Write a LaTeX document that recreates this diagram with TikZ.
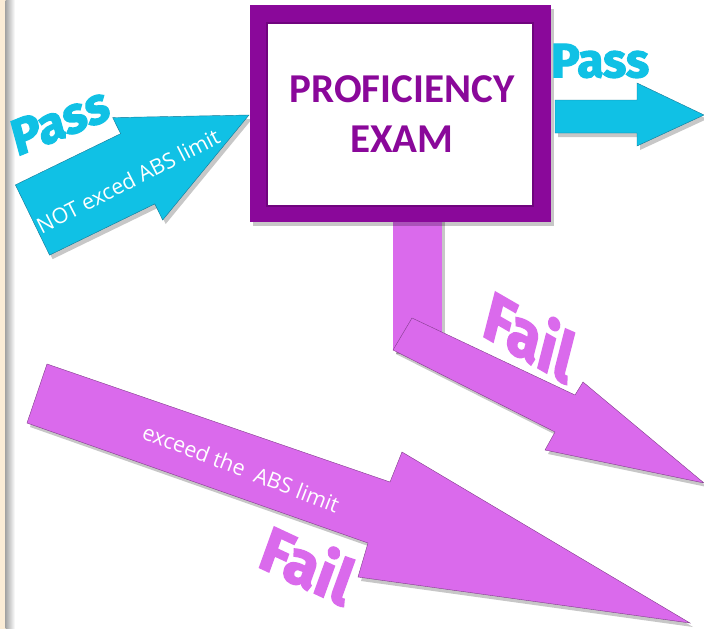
\documentclass[tikz,border=0pt]{standalone}
\usepackage{fontspec}
\setmainfont{Carlito}
\newfontfamily\heavyfont{Fira Sans}[BoldFeatures={FakeBold=2.5}]
\newfontfamily\labelfont{Open Sans}
\usetikzlibrary{shadows}
\definecolor{examPurple}{RGB}{138,8,154}
\definecolor{examPurpleDark}{RGB}{112,4,126}
\definecolor{passCyan}{RGB}{16,193,229}
\definecolor{passEdge}{RGB}{20,120,150}
\definecolor{failPink}{RGB}{218,106,236}
\definecolor{failEdge}{RGB}{130,60,140}
\definecolor{leftBeige}{RGB}{251,236,214}
\begin{document}
\begin{tikzpicture}[x=1pt,y=-1pt,
  shadowed/.style={drop shadow={shadow xshift=3pt,shadow yshift=-4pt,opacity=.22,fill=black}},
  passarrow/.style={fill=passCyan,draw=passEdge,line width=.4pt,shadowed},
  failarrow/.style={fill=failPink,draw=failEdge,line width=.4pt,shadowed},
  examouter/.style={fill=examPurple,minimum width=301pt,minimum height=217pt,inner sep=0pt,shadowed},
  examinner/.style={fill=white,draw=examPurpleDark,line width=2pt,minimum width=266pt,minimum height=183pt,inner sep=0pt,align=center,font=\bfseries\fontsize{41}{50}\selectfont,text=examPurple},
  bigword/.style={font=\heavyfont\bfseries\fontsize{48}{48}\selectfont,inner sep=0pt},
  arrowtext/.style={font=\labelfont\fontsize{21.5}{21.5}\selectfont,text=white,inner sep=0pt},
]
\fill[white] (0,0) rectangle (704,629);
\useasboundingbox (0,0) rectangle (704,629);
% left page border
\fill[leftBeige] (0,0) rectangle (5.5,629);
\shade[left color=black!35,right color=white] (5.5,0) rectangle (15,629);

% big lower fail arrow
\draw[failarrow] (47,364) -- (390,482) -- (402,452) -- (690,623) -- (358,577) -- (368,543) -- (27,423) -- cycle;
\node[arrowtext,rotate=-21] (exceedtext) at (241,468) {exceed the\ \ ABS limit};
\node[bigword,text=failPink,rotate=-25,xslant=-0.09,font=\heavyfont\bfseries\fontsize{62}{62}\selectfont] (faillow) at (308,563) {Fail};

% left pass arrow
\draw[passarrow] (15.4,184.9) -- (120.6,133.7) -- (112.7,117.6) -- (249,115) -- (162.7,220) -- (154.8,203.9) -- (49.6,255.1) -- cycle;
\node[arrowtext,rotate=27] (nottext) at (128,181) {NOT exced ABS limit};
\node[bigword,text=passCyan,rotate=22,xslant=0.12,font=\heavyfont\bfseries\fontsize{50}{50}\selectfont] (passleft) at (60,121) {Pass};

% stem of upper fail arrow
\fill[failPink,shadowed] (393,215) rectangle (442,350);

% exam box
\node[examouter] (exam) at (400.5,113.5) {};
\node[examinner] (examtext) at (400,114.5) {\hspace*{4pt}PROFICIENCY\\\hspace*{4pt}EXAM};

% upper fail arrow
\draw[failarrow] (412,318) -- (575,395) -- (583,382) -- (704,483) -- (545,450) -- (555,432) -- (393,350) -- cycle;
\node[bigword,text=failPink,rotate=-30,xslant=-0.28,font=\heavyfont\bfseries\fontsize{64}{64}\selectfont] (failup) at (530,334) {Fail};

% right pass arrow
\draw[passarrow] (555,100) -- (637,100) -- (637,83) -- (704,115) -- (637,146) -- (637,133) -- (555,133) -- cycle;
\node[bigword,text=passCyan] (passright) at (600,61) {Pass};
\end{tikzpicture}
\end{document}
